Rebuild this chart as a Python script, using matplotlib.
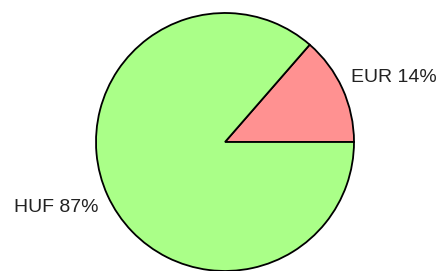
import matplotlib
matplotlib.use("Agg")
import matplotlib.pyplot as plt

categories = ["EUR", "HUF"]
values = [13.6, 86.4]
labels = ["EUR 14%", "HUF 87%"]
colors = ["#FF9191", "#AAFF88"]

W, H = 438, 271
fig = plt.figure(figsize=(W / 100, H / 100), dpi=100)
ax = fig.add_axes([0, 0, 1, 1])

cx, cy, r = 225, H - 142, 129
ax.pie(values, colors=colors, startangle=0, counterclock=True,
       center=(cx, cy), radius=r, frame=True,
       wedgeprops=dict(edgecolor="black", linewidth=1.3))
ax.set_xlim(0, W)
ax.set_ylim(0, H)
ax.set_aspect("equal")
ax.axis("off")

ax.text(351, H - 77, labels[0], ha="left", va="center",
        fontsize=14, family="Liberation Sans", color="#222222")
ax.text(98, H - 207, labels[1], ha="right", va="center",
        fontsize=14, family="Liberation Sans", color="#222222")

fig.savefig("out.png", dpi=100)
